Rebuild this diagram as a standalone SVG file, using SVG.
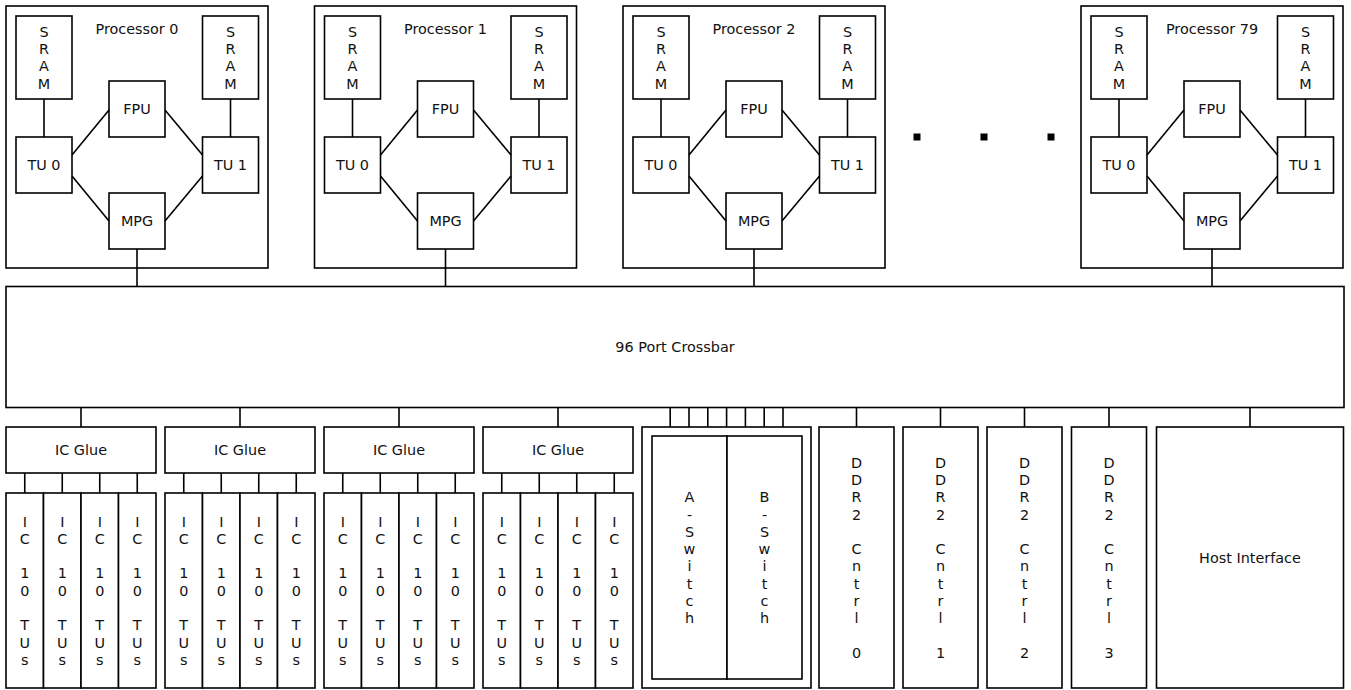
<svg xmlns="http://www.w3.org/2000/svg" width="1351" height="690" viewBox="0 0 1351 690">
<style>
.b{fill:#fff;stroke:#000;stroke-width:1.6}
.t{font-family:"DejaVu Sans","Liberation Sans",sans-serif;font-size:14.4px;text-anchor:middle;fill:#111}
.c line{stroke:#000;stroke-width:1.6}
</style>
<rect width="1351" height="690" fill="#fff"/>
<!-- Processors -->
<g id="proc0">
<rect class="b" x="6" y="6" width="262" height="262"/>
<text class="t" x="137" y="34">Processor 0</text>
<g id="p0-sram0"><rect class="b" x="16" y="16" width="56" height="83"/><text class="t" x="44" y="36.8"><tspan x="44">S</tspan><tspan x="44" dy="17.3">R</tspan><tspan x="44" dy="17.3">A</tspan><tspan x="44" dy="17.3">M</tspan></text></g>
<g id="p0-sram1"><rect class="b" x="202.5" y="16" width="56" height="83"/><text class="t" x="230.5" y="36.8"><tspan x="230.5">S</tspan><tspan x="230.5" dy="17.3">R</tspan><tspan x="230.5" dy="17.3">A</tspan><tspan x="230.5" dy="17.3">M</tspan></text></g>
<g id="p0-fpu"><rect class="b" x="109" y="81" width="56" height="56"/><text class="t" x="137" y="114">FPU</text></g>
<g id="p0-tu0"><rect class="b" x="16" y="137" width="56" height="56"/><text class="t" x="44" y="170">TU 0</text></g>
<g id="p0-tu1"><rect class="b" x="202.5" y="137" width="56" height="56"/><text class="t" x="230.5" y="170">TU 1</text></g>
<g id="p0-mpg"><rect class="b" x="109" y="193" width="56" height="56"/><text class="t" x="137" y="226">MPG</text></g>
</g>
<g id="proc1">
<rect class="b" x="314.5" y="6" width="262" height="262"/>
<text class="t" x="445.5" y="34">Processor 1</text>
<g id="p1-sram0"><rect class="b" x="324.5" y="16" width="56" height="83"/><text class="t" x="352.5" y="36.8"><tspan x="352.5">S</tspan><tspan x="352.5" dy="17.3">R</tspan><tspan x="352.5" dy="17.3">A</tspan><tspan x="352.5" dy="17.3">M</tspan></text></g>
<g id="p1-sram1"><rect class="b" x="511" y="16" width="56" height="83"/><text class="t" x="539" y="36.8"><tspan x="539">S</tspan><tspan x="539" dy="17.3">R</tspan><tspan x="539" dy="17.3">A</tspan><tspan x="539" dy="17.3">M</tspan></text></g>
<g id="p1-fpu"><rect class="b" x="417.5" y="81" width="56" height="56"/><text class="t" x="445.5" y="114">FPU</text></g>
<g id="p1-tu0"><rect class="b" x="324.5" y="137" width="56" height="56"/><text class="t" x="352.5" y="170">TU 0</text></g>
<g id="p1-tu1"><rect class="b" x="511" y="137" width="56" height="56"/><text class="t" x="539" y="170">TU 1</text></g>
<g id="p1-mpg"><rect class="b" x="417.5" y="193" width="56" height="56"/><text class="t" x="445.5" y="226">MPG</text></g>
</g>
<g id="proc2">
<rect class="b" x="623" y="6" width="262" height="262"/>
<text class="t" x="754" y="34">Processor 2</text>
<g id="p2-sram0"><rect class="b" x="633" y="16" width="56" height="83"/><text class="t" x="661" y="36.8"><tspan x="661">S</tspan><tspan x="661" dy="17.3">R</tspan><tspan x="661" dy="17.3">A</tspan><tspan x="661" dy="17.3">M</tspan></text></g>
<g id="p2-sram1"><rect class="b" x="819.5" y="16" width="56" height="83"/><text class="t" x="847.5" y="36.8"><tspan x="847.5">S</tspan><tspan x="847.5" dy="17.3">R</tspan><tspan x="847.5" dy="17.3">A</tspan><tspan x="847.5" dy="17.3">M</tspan></text></g>
<g id="p2-fpu"><rect class="b" x="726" y="81" width="56" height="56"/><text class="t" x="754" y="114">FPU</text></g>
<g id="p2-tu0"><rect class="b" x="633" y="137" width="56" height="56"/><text class="t" x="661" y="170">TU 0</text></g>
<g id="p2-tu1"><rect class="b" x="819.5" y="137" width="56" height="56"/><text class="t" x="847.5" y="170">TU 1</text></g>
<g id="p2-mpg"><rect class="b" x="726" y="193" width="56" height="56"/><text class="t" x="754" y="226">MPG</text></g>
</g>
<g id="proc79">
<rect class="b" x="1081" y="6" width="262" height="262"/>
<text class="t" x="1212" y="34">Processor 79</text>
<g id="p79-sram0"><rect class="b" x="1091" y="16" width="56" height="83"/><text class="t" x="1119" y="36.8"><tspan x="1119">S</tspan><tspan x="1119" dy="17.3">R</tspan><tspan x="1119" dy="17.3">A</tspan><tspan x="1119" dy="17.3">M</tspan></text></g>
<g id="p79-sram1"><rect class="b" x="1277.5" y="16" width="56" height="83"/><text class="t" x="1305.5" y="36.8"><tspan x="1305.5">S</tspan><tspan x="1305.5" dy="17.3">R</tspan><tspan x="1305.5" dy="17.3">A</tspan><tspan x="1305.5" dy="17.3">M</tspan></text></g>
<g id="p79-fpu"><rect class="b" x="1184" y="81" width="56" height="56"/><text class="t" x="1212" y="114">FPU</text></g>
<g id="p79-tu0"><rect class="b" x="1091" y="137" width="56" height="56"/><text class="t" x="1119" y="170">TU 0</text></g>
<g id="p79-tu1"><rect class="b" x="1277.5" y="137" width="56" height="56"/><text class="t" x="1305.5" y="170">TU 1</text></g>
<g id="p79-mpg"><rect class="b" x="1184" y="193" width="56" height="56"/><text class="t" x="1212" y="226">MPG</text></g>
</g>
<g id="ellipsis">
<rect x="913.5" y="133.5" width="7" height="7" fill="#000"/>
<rect x="980.5" y="133.5" width="7" height="7" fill="#000"/>
<rect x="1047.5" y="133.5" width="7" height="7" fill="#000"/>
</g>
<g id="crossbar"><rect class="b" x="6" y="286.5" width="1338" height="121"/><text class="t" x="675" y="352">96 Port Crossbar</text></g>
<!-- IC Glue groups -->
<g id="glue0"><rect class="b" x="6" y="427" width="150" height="46"/><text class="t" x="81" y="455">IC Glue</text></g>
<g id="glue1"><rect class="b" x="165" y="427" width="150" height="46"/><text class="t" x="240" y="455">IC Glue</text></g>
<g id="glue2"><rect class="b" x="324" y="427" width="150" height="46"/><text class="t" x="399" y="455">IC Glue</text></g>
<g id="glue3"><rect class="b" x="483" y="427" width="150" height="46"/><text class="t" x="558" y="455">IC Glue</text></g>
<defs>
<g id="iccol">
<rect class="b" x="-18.75" y="493" width="37.5" height="195"/>
<text class="t" y="526.5"><tspan x="0">I</tspan><tspan x="0" dy="17.3">C</tspan><tspan x="0" dy="34.6">1</tspan><tspan x="0" dy="17.3">0</tspan><tspan x="0" dy="34.6">T</tspan><tspan x="0" dy="17.3">U</tspan><tspan x="0" dy="17.3">s</tspan></text>
</g>
</defs>
<g id="ic0-0"><use href="#iccol" x="24.75"/></g>
<g id="ic0-1"><use href="#iccol" x="62.25"/></g>
<g id="ic0-2"><use href="#iccol" x="99.75"/></g>
<g id="ic0-3"><use href="#iccol" x="137.25"/></g>
<g id="ic1-0"><use href="#iccol" x="183.75"/></g>
<g id="ic1-1"><use href="#iccol" x="221.25"/></g>
<g id="ic1-2"><use href="#iccol" x="258.75"/></g>
<g id="ic1-3"><use href="#iccol" x="296.25"/></g>
<g id="ic2-0"><use href="#iccol" x="342.75"/></g>
<g id="ic2-1"><use href="#iccol" x="380.25"/></g>
<g id="ic2-2"><use href="#iccol" x="417.75"/></g>
<g id="ic2-3"><use href="#iccol" x="455.25"/></g>
<g id="ic3-0"><use href="#iccol" x="501.75"/></g>
<g id="ic3-1"><use href="#iccol" x="539.25"/></g>
<g id="ic3-2"><use href="#iccol" x="576.75"/></g>
<g id="ic3-3"><use href="#iccol" x="614.25"/></g>
<!-- Switch -->
<g id="switch">
<rect class="b" x="642" y="427" width="169" height="261"/>
<g id="aswitch"><rect class="b" x="652" y="436" width="75" height="243"/><text class="t" y="502.2"><tspan x="689.5">A</tspan><tspan x="689.5" dy="17.3">-</tspan><tspan x="689.5" dy="17.3">S</tspan><tspan x="689.5" dy="17.3">w</tspan><tspan x="689.5" dy="17.3">i</tspan><tspan x="689.5" dy="17.3">t</tspan><tspan x="689.5" dy="17.3">c</tspan><tspan x="689.5" dy="17.3">h</tspan></text></g>
<g id="bswitch"><rect class="b" x="727" y="436" width="75" height="243"/><text class="t" y="502.2"><tspan x="764.5">B</tspan><tspan x="764.5" dy="17.3">-</tspan><tspan x="764.5" dy="17.3">S</tspan><tspan x="764.5" dy="17.3">w</tspan><tspan x="764.5" dy="17.3">i</tspan><tspan x="764.5" dy="17.3">t</tspan><tspan x="764.5" dy="17.3">c</tspan><tspan x="764.5" dy="17.3">h</tspan></text></g>
</g>
<!-- DDR2 -->
<g id="ddr0"><rect class="b" x="819" y="427" width="75" height="261"/><text class="t" y="467.6"><tspan x="856.5">D</tspan><tspan x="856.5" dy="17.3">D</tspan><tspan x="856.5" dy="17.3">R</tspan><tspan x="856.5" dy="17.3">2</tspan><tspan x="856.5" dy="34.6">C</tspan><tspan x="856.5" dy="17.3">n</tspan><tspan x="856.5" dy="17.3">t</tspan><tspan x="856.5" dy="17.3">r</tspan><tspan x="856.5" dy="17.3">l</tspan><tspan x="856.5" dy="34.6">0</tspan></text></g>
<g id="ddr1"><rect class="b" x="903" y="427" width="75" height="261"/><text class="t" y="467.6"><tspan x="940.5">D</tspan><tspan x="940.5" dy="17.3">D</tspan><tspan x="940.5" dy="17.3">R</tspan><tspan x="940.5" dy="17.3">2</tspan><tspan x="940.5" dy="34.6">C</tspan><tspan x="940.5" dy="17.3">n</tspan><tspan x="940.5" dy="17.3">t</tspan><tspan x="940.5" dy="17.3">r</tspan><tspan x="940.5" dy="17.3">l</tspan><tspan x="940.5" dy="34.6">1</tspan></text></g>
<g id="ddr2"><rect class="b" x="987" y="427" width="75" height="261"/><text class="t" y="467.6"><tspan x="1024.5">D</tspan><tspan x="1024.5" dy="17.3">D</tspan><tspan x="1024.5" dy="17.3">R</tspan><tspan x="1024.5" dy="17.3">2</tspan><tspan x="1024.5" dy="34.6">C</tspan><tspan x="1024.5" dy="17.3">n</tspan><tspan x="1024.5" dy="17.3">t</tspan><tspan x="1024.5" dy="17.3">r</tspan><tspan x="1024.5" dy="17.3">l</tspan><tspan x="1024.5" dy="34.6">2</tspan></text></g>
<g id="ddr3"><rect class="b" x="1071.5" y="427" width="75" height="261"/><text class="t" y="467.6"><tspan x="1109">D</tspan><tspan x="1109" dy="17.3">D</tspan><tspan x="1109" dy="17.3">R</tspan><tspan x="1109" dy="17.3">2</tspan><tspan x="1109" dy="34.6">C</tspan><tspan x="1109" dy="17.3">n</tspan><tspan x="1109" dy="17.3">t</tspan><tspan x="1109" dy="17.3">r</tspan><tspan x="1109" dy="17.3">l</tspan><tspan x="1109" dy="34.6">3</tspan></text></g>
<g id="host"><rect class="b" x="1156.5" y="427" width="187" height="261"/><text class="t" x="1250" y="563">Host Interface</text></g>
<!-- Connectors -->
<g id="connectors" class="c">
<line x1="44" y1="99" x2="44" y2="137"/><line x1="230.5" y1="99" x2="230.5" y2="137"/>
<line x1="72" y1="155" x2="109" y2="110"/><line x1="165" y1="110" x2="202.5" y2="155"/>
<line x1="72" y1="176" x2="109" y2="221"/><line x1="165" y1="221" x2="202.5" y2="176"/>
<line x1="137" y1="249" x2="137" y2="286.5"/>
<line x1="352.5" y1="99" x2="352.5" y2="137"/><line x1="539" y1="99" x2="539" y2="137"/>
<line x1="380.5" y1="155" x2="417.5" y2="110"/><line x1="473.5" y1="110" x2="511" y2="155"/>
<line x1="380.5" y1="176" x2="417.5" y2="221"/><line x1="473.5" y1="221" x2="511" y2="176"/>
<line x1="445.5" y1="249" x2="445.5" y2="286.5"/>
<line x1="661" y1="99" x2="661" y2="137"/><line x1="847.5" y1="99" x2="847.5" y2="137"/>
<line x1="689" y1="155" x2="726" y2="110"/><line x1="782" y1="110" x2="819.5" y2="155"/>
<line x1="689" y1="176" x2="726" y2="221"/><line x1="782" y1="221" x2="819.5" y2="176"/>
<line x1="754" y1="249" x2="754" y2="286.5"/>
<line x1="1119" y1="99" x2="1119" y2="137"/><line x1="1305.5" y1="99" x2="1305.5" y2="137"/>
<line x1="1147" y1="155" x2="1184" y2="110"/><line x1="1240" y1="110" x2="1277.5" y2="155"/>
<line x1="1147" y1="176" x2="1184" y2="221"/><line x1="1240" y1="221" x2="1277.5" y2="176"/>
<line x1="1212" y1="249" x2="1212" y2="286.5"/>
<line x1="81" y1="407.5" x2="81" y2="427"/><line x1="240" y1="407.5" x2="240" y2="427"/>
<line x1="399" y1="407.5" x2="399" y2="427"/><line x1="558" y1="407.5" x2="558" y2="427"/>
<line x1="24.75" y1="473" x2="24.75" y2="493"/><line x1="62.25" y1="473" x2="62.25" y2="493"/><line x1="99.75" y1="473" x2="99.75" y2="493"/><line x1="137.25" y1="473" x2="137.25" y2="493"/>
<line x1="183.75" y1="473" x2="183.75" y2="493"/><line x1="221.25" y1="473" x2="221.25" y2="493"/><line x1="258.75" y1="473" x2="258.75" y2="493"/><line x1="296.25" y1="473" x2="296.25" y2="493"/>
<line x1="342.75" y1="473" x2="342.75" y2="493"/><line x1="380.25" y1="473" x2="380.25" y2="493"/><line x1="417.75" y1="473" x2="417.75" y2="493"/><line x1="455.25" y1="473" x2="455.25" y2="493"/>
<line x1="501.75" y1="473" x2="501.75" y2="493"/><line x1="539.25" y1="473" x2="539.25" y2="493"/><line x1="576.75" y1="473" x2="576.75" y2="493"/><line x1="614.25" y1="473" x2="614.25" y2="493"/>
<line x1="670.2" y1="407.5" x2="670.2" y2="427"/><line x1="689" y1="407.5" x2="689" y2="427"/><line x1="707.8" y1="407.5" x2="707.8" y2="427"/><line x1="726.6" y1="407.5" x2="726.6" y2="427"/><line x1="745.4" y1="407.5" x2="745.4" y2="427"/><line x1="764.2" y1="407.5" x2="764.2" y2="427"/><line x1="783" y1="407.5" x2="783" y2="427"/>
<line x1="856.5" y1="407.5" x2="856.5" y2="427"/><line x1="940.5" y1="407.5" x2="940.5" y2="427"/><line x1="1024.5" y1="407.5" x2="1024.5" y2="427"/><line x1="1109" y1="407.5" x2="1109" y2="427"/>
<line x1="1250" y1="407.5" x2="1250" y2="427"/>
</g>
</svg>
